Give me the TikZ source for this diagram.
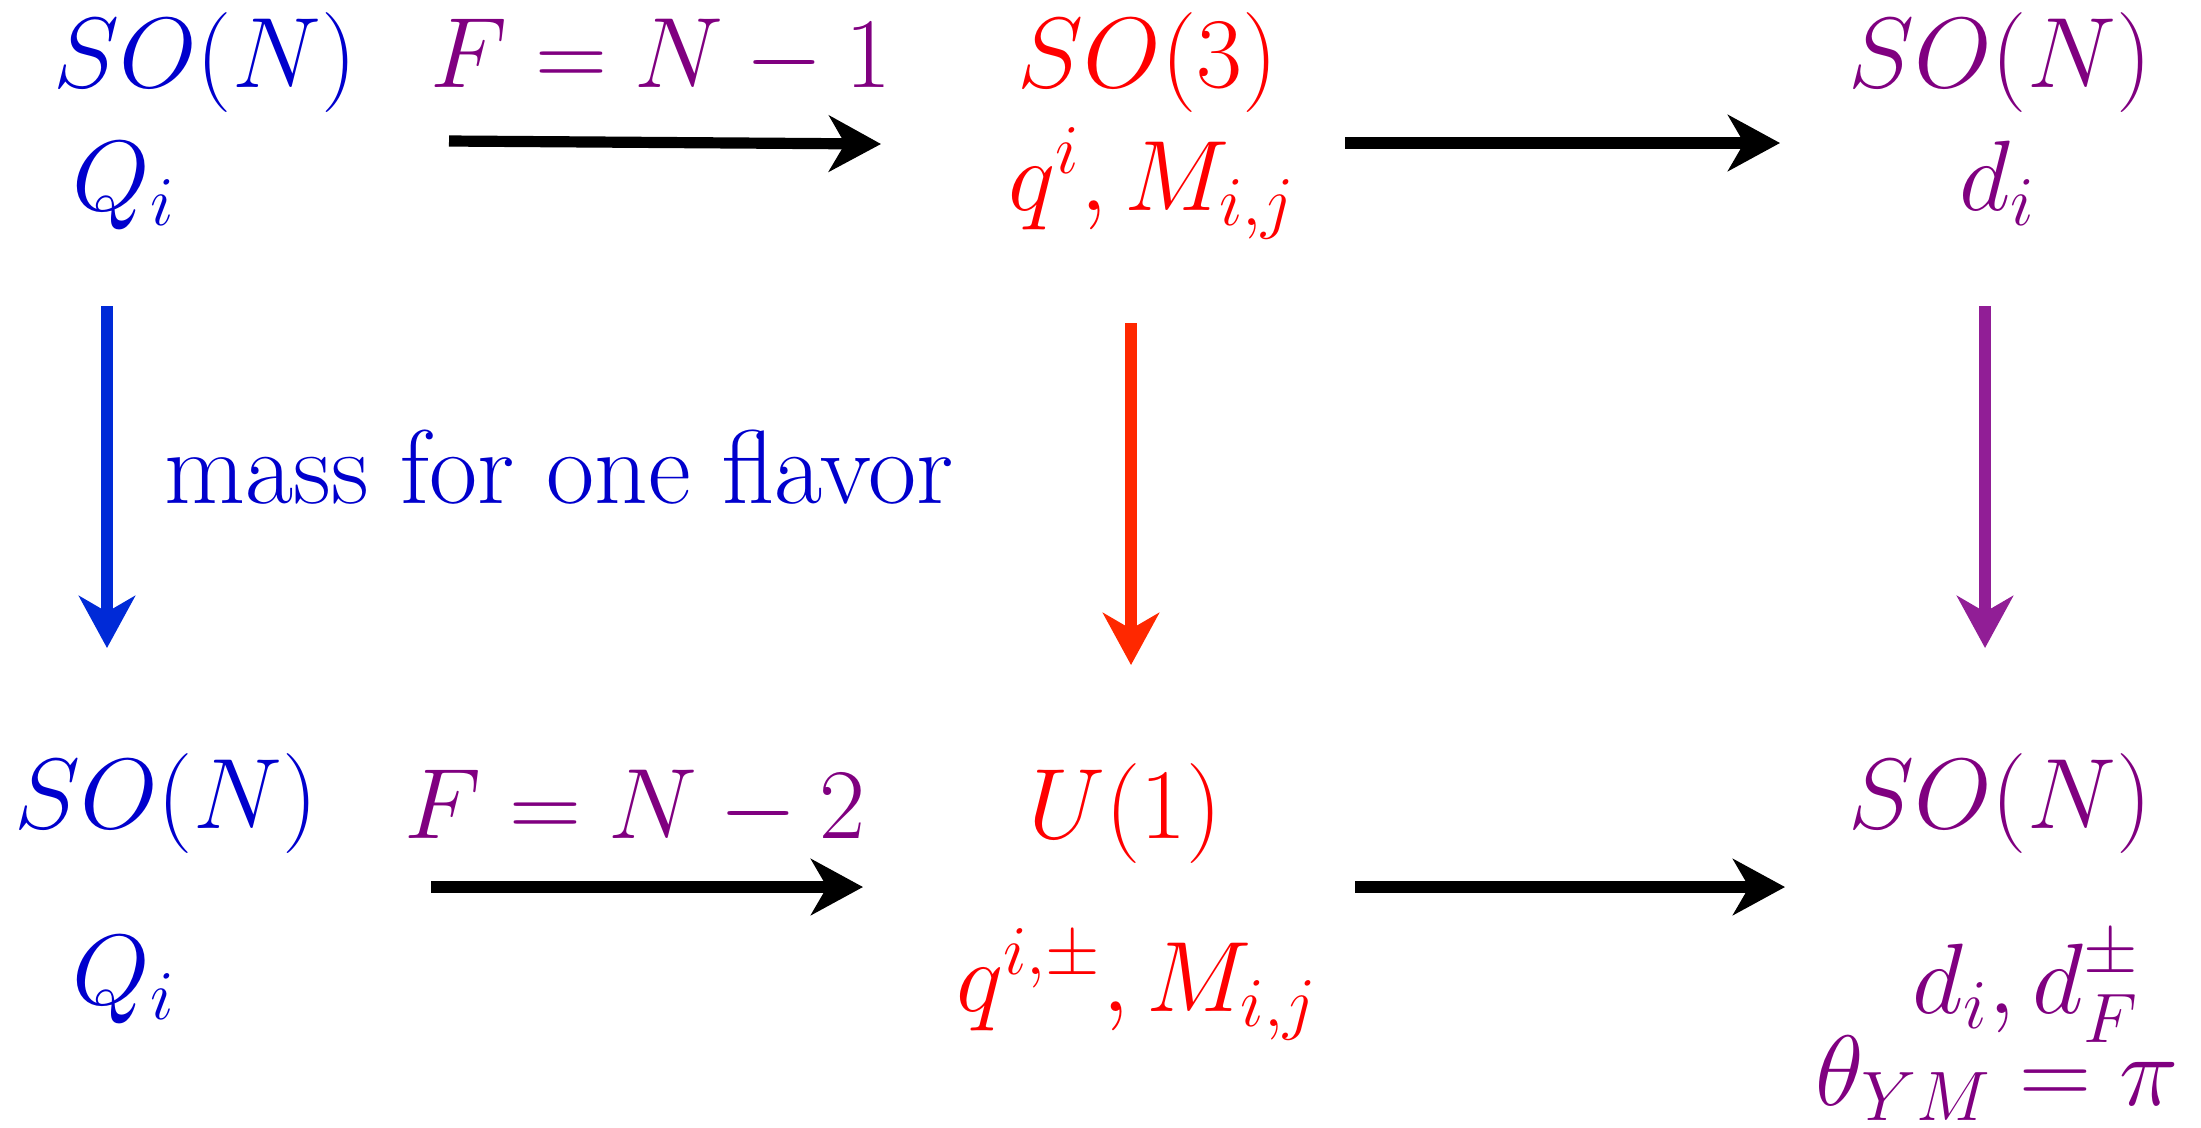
\documentclass[tikz,border=0pt]{standalone}
\usepackage{fix-cm}
\usepackage{amsmath,amssymb}
\usepackage{tikz}
\usetikzlibrary{arrows.meta}

\definecolor{qblue}{RGB}{0,0,205}
\definecolor{ablue}{RGB}{0,42,215}
\definecolor{qred}{RGB}{255,0,0}
\definecolor{ared}{RGB}{255,40,0}
\definecolor{qpurple}{RGB}{128,0,128}
\definecolor{apurple}{RGB}{145,30,150}

\tikzset{
  lbl/.style={anchor=base, inner sep=0pt},
  flow/.style={line width=2.8pt, -{Stealth[length=13pt, width=14pt, inset=4pt]}},
}

\begin{document}
\begin{tikzpicture}[x=0.25pt, y=-0.25pt, font=\fontsize{25}{30}\selectfont]
  \useasboundingbox (0,0) rectangle (2201,1127);
  % top row
  \node[lbl,qblue]   (gA)  at (205,87)   {$SO(N)$};
  \node[lbl,qblue]   (fA)  at (124,210)  {$Q_i$};
  \node[lbl,qpurple] (fl1) at (661,87)   {$F=N-1$};
  \node[lbl,qred]    (gB)  at (1148,87)  {$SO(3)$};
  \node[lbl,qred]    (fB)  at (1152,210) {$q^i,M_{i,j}$};
  \node[lbl,qpurple] (gC)  at (2000,87)  {$SO(N)$};
  \node[lbl,qpurple] (fC)  at (1998,210) {$d_i$};
  % bottom row
  \node[lbl,qblue]   (gD)  at (166,828)  {$SO(N)$};
  \node[lbl,qblue]   (fD)  at (124,1004) {$Q_i$};
  \node[lbl,qpurple] (fl2) at (635,838)  {$F=N-2$};
  \node[lbl,qred]    (gE)  at (1125,838) {$U(1)$};
  \node[lbl,qred]    (fE)  at (1137,1011) {$q^{i,\pm},M_{i,j}$};
  \node[lbl,qpurple] (gF)  at (2000,828) {$SO(N)$};
  \node[lbl,qpurple] (fF)  at (2026,1013) {$d_i,d_F^{\pm}$};
  \node[lbl,qpurple] (th)  at (1997,1105) {$\theta_{YM}=\pi$};
  % mass deformation
  \node[lbl,qblue,font=\fontsize{26.2}{31}\selectfont] (mass) at (559,503) {mass for one flavor};
  % arrow ends
  \coordinate (h1s) at (449,141);  \coordinate (h1e) at (881,144);
  \coordinate (h2s) at (1345,143); \coordinate (h2e) at (1780,143);
  \coordinate (h3s) at (431,887);  \coordinate (h3e) at (863,887);
  \coordinate (h4s) at (1355,887); \coordinate (h4e) at (1785,887);
  \coordinate (v1s) at (107,306);  \coordinate (v1e) at (107,648);
  \coordinate (v2s) at (1131,323); \coordinate (v2e) at (1131,665);
  \coordinate (v3s) at (1985,306); \coordinate (v3e) at (1985,648);
  % arrows
  \draw[flow,black]   (h1s) -- (h1e);
  \draw[flow,black]   (h2s) -- (h2e);
  \draw[flow,black]   (h3s) -- (h3e);
  \draw[flow,black]   (h4s) -- (h4e);
  \draw[flow,ablue]   (v1s) -- (v1e);
  \draw[flow,ared]    (v2s) -- (v2e);
  \draw[flow,apurple] (v3s) -- (v3e);
\end{tikzpicture}
\end{document}
